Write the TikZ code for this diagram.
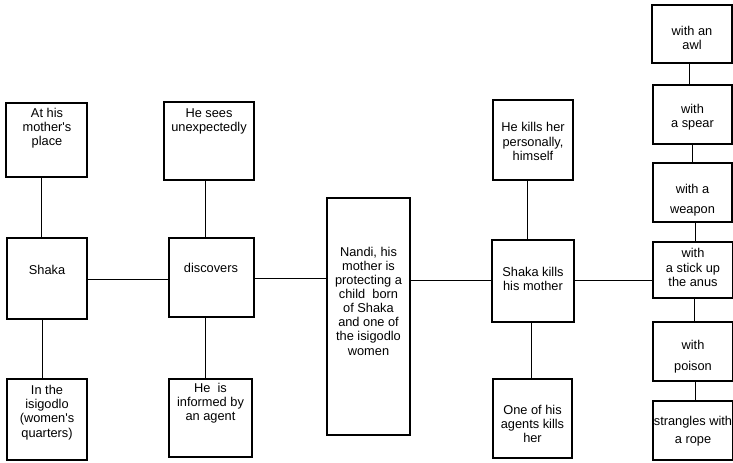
\documentclass[tikz,border=0pt]{standalone}
\usepackage{fontspec}
\setmainfont{Liberation Sans}[Ligatures=TeXOff]
\begin{document}
\begin{tikzpicture}[x=0.75pt,y=-0.75pt,
  box/.style 2 args={draw=black, line width=0.9pt, rectangle, inner sep=0pt,
    minimum width=#1*0.75pt, minimum height=#2*0.75pt},
  txt/.style={align=center, inner sep=0pt, font=\fontsize{9.6pt}{10.6pt}\selectfont},
  conn/.style={draw=black, line width=0.75pt}]
\useasboundingbox (0,0) rectangle (733,463);
% boxes
\node[box={81}{74}] (m1) at (46.5,140) {};
\node[box={80}{81}] (shaka) at (47,278.5) {};
\node[box={80}{81}] (isig) at (47,419.5) {};
\node[box={90}{78}] (sees) at (209,141) {};
\node[box={85}{79}] (disc) at (211.5,277.5) {};
\node[box={83}{78}] (inf) at (210.5,418) {};
\node[box={83}{237}] (nandi) at (368.5,316.5) {};
\node[box={82}{82}] (kill) at (533,281) {};
\node[box={80}{80}] (pers) at (533,140) {};
\node[box={79}{79}] (agent) at (532.5,418.5) {};
\node[box={80}{58}] (awl) at (692,34) {};
\node[box={79}{59}] (spear) at (692.5,114.5) {};
\node[box={79}{59}] (weapon) at (692.5,192.5) {};
\node[box={80}{56}] (stick) at (693,270) {};
\node[box={80}{59}] (poison) at (693,351.5) {};
\node[box={80}{59}] (rope) at (693,430.5) {};
% texts
\node[txt] (m1t) at (47,128) {At his\\mother's\\place};
\node[txt] (shakat) at (47,270) {Shaka};
\node[txt] (isigt) at (47,412.5) {In the\\isigodlo\\(women's\\quarters)};
\node[txt] (seest) at (209,121.5) {He sees\\unexpectedly};
\node[txt] (disct) at (211,268) {discovers};
\node[txt] (inft) at (210.5,403.5) {He~~is\\informed by\\an agent};
\node[txt] (nandit) at (368.5,301) {Nandi, his\\mother is\\protecting a\\child~~born\\of Shaka\\and one of\\the isigodlo\\women};
\node[txt] (killt) at (533,278.5) {Shaka kills\\his mother};
\node[txt] (perst) at (533,141.5) {He kills her\\personally,\\himself};
\node[txt] (agentt) at (532.5,424) {One of his\\agents kills\\her};
\node[txt] (awlt) at (692,37.5) {with an\\awl};
\node[txt] (speart) at (692.5,117.5) {with\\a spear};
\node[txt] (weapont) at (692.5,200) {with a\\[4pt]weapon};
\node[txt] (stickt) at (693,267.5) {with\\a stick up\\the anus};
\node[txt] (poisont) at (693,356.5) {with\\[5pt]poison};
\node[txt] (ropet) at (693,431) {strangles with\\[3pt]a rope};
% connector guide coordinates
\coordinate (xa) at (41,0);
\coordinate (xb) at (42,0);
\coordinate (xc) at (205,0);
\coordinate (xd) at (527,0);
\coordinate (xe) at (531,0);
\coordinate (xf) at (689,0);
\coordinate (xg) at (692,0);
\coordinate (xh) at (695,0);
\coordinate (xi) at (694,0);
\coordinate (ya) at (0,280);
\coordinate (yb) at (0,279);
\coordinate (yc) at (0,281);
% connectors
\draw[conn] (m1.south -| xa) -- (shaka.north -| xa);
\draw[conn] (shaka.south -| xb) -- (isig.north -| xb);
\draw[conn] (sees.south -| xc) -- (disc.north -| xc);
\draw[conn] (disc.south -| xc) -- (inf.north -| xc);
\draw[conn] (shaka.east |- ya) -- (disc.west |- ya);
\draw[conn] (disc.east |- yb) -- (nandi.west |- yb);
\draw[conn] (nandi.east |- yc) -- (kill.west |- yc);
\draw[conn] (kill.east |- yc) -- (stick.west |- yc);
\draw[conn] (pers.south -| xd) -- (kill.north -| xd);
\draw[conn] (kill.south -| xe) -- (agent.north -| xe);
\draw[conn] (awl.south -| xf) -- (spear.north -| xf);
\draw[conn] (spear.south -| xg) -- (weapon.north -| xg);
\draw[conn] (weapon.south -| xh) -- (stick.north -| xh);
\draw[conn] (stick.south -| xi) -- (poison.north -| xi);
\draw[conn] (poison.south -| xh) -- (rope.north -| xh);
\end{tikzpicture}
\end{document}
